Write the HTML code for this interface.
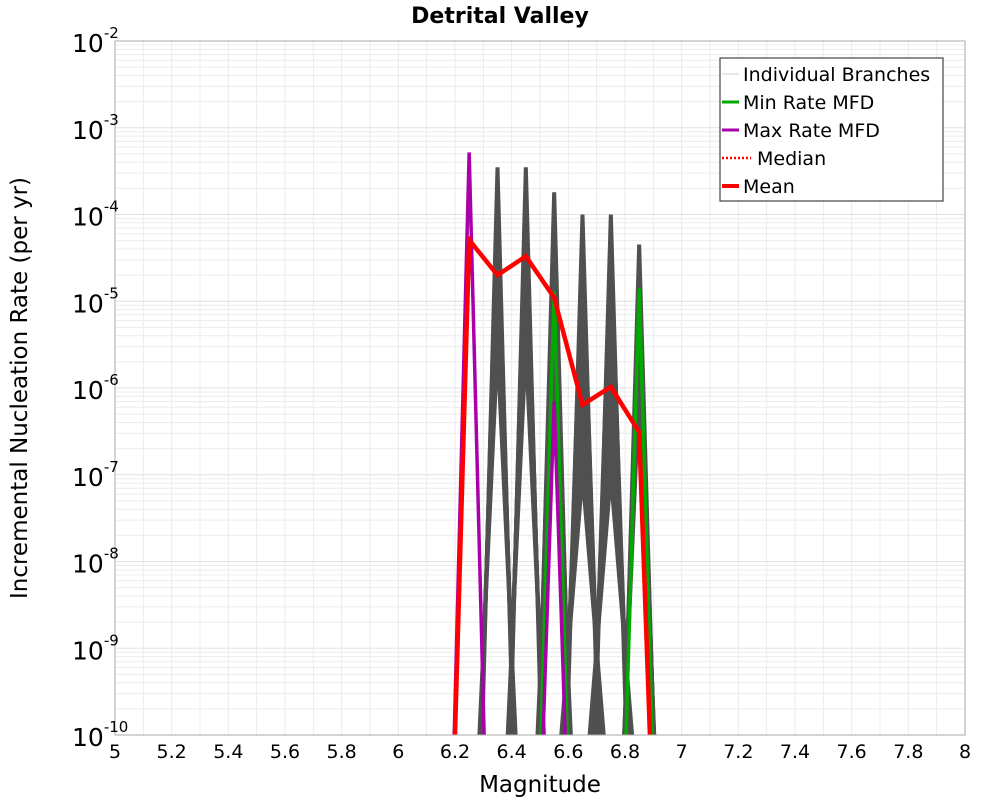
<!DOCTYPE html>
<html><head><meta charset="utf-8"><style>
html,body{margin:0;padding:0;background:#fff;overflow:hidden;}
svg{display:block;}
svg text{font-family:"DejaVu Sans","Liberation Sans",sans-serif;}
</style></head><body>
<svg id="chart" width="1000" height="800" xmlns="http://www.w3.org/2000/svg">
<rect x="0" y="0" width="1000" height="800" fill="#fff"/>
<text x="500" y="23" text-anchor="middle" font-size="22" font-weight="bold">Detrital Valley</text>
<g id="grid"></g>
<g id="series" clip-path="url(#clip)"></g>
<defs><clipPath id="clip"><rect x="115" y="41" width="850" height="694"/></clipPath></defs>
<rect x="115" y="41" width="850" height="694" fill="none" stroke="#aaa" stroke-width="1"/>
<g id="axes"></g>
<text x="540" y="792" text-anchor="middle" font-size="23">Magnitude</text>
<text transform="translate(27,388) rotate(-90)" text-anchor="middle" font-size="23">Incremental Nucleation Rate (per yr)</text>
<g>
<rect x="720" y="58" width="223" height="143" fill="#fff" stroke="#444" stroke-width="1.2"/>
<line x1="722" y1="74" x2="739" y2="74" stroke="#ddd" stroke-width="1.5"/>
<text x="743" y="81" font-size="19">Individual Branches</text>
<line x1="722" y1="102" x2="739" y2="102" stroke="#00aa00" stroke-width="3"/>
<text x="743" y="109" font-size="19">Min Rate MFD</text>
<line x1="722" y1="130" x2="739" y2="130" stroke="#aa00aa" stroke-width="3"/>
<text x="743" y="137" font-size="19">Max Rate MFD</text>
<line x1="722" y1="158" x2="751" y2="158" stroke="#f00" stroke-width="2.5" stroke-dasharray="2,2"/>
<text x="757" y="165" font-size="19">Median</text>
<line x1="722" y1="186" x2="739" y2="186" stroke="#f00" stroke-width="4"/>
<text x="743" y="193" font-size="19">Mean</text>
</g>
</svg>
<script>
const magnitudes=[6.15,6.25,6.35,6.45,6.55,6.65,6.75,6.85,6.95];
const meanValues=[2e-16,5.1e-5,2e-5,3.3e-5,1.1e-5,6.4e-7,1.03e-6,3.1e-7,2e-16];
const minRateValues=[1e-16,1e-16,1e-16,1e-16,1.3e-5,1e-16,1e-16,1.4e-5,1e-16];
const maxRateValues=[1e-16,5.2e-4,1e-16,1e-16,7e-7,1e-16,1e-16,1e-16,1e-16];
// individual branch spikes: center magnitude, peak rate, floor rate
const branchMags=[6.35,6.35,6.35,6.35,6.35,6.35,6.35,6.45,6.45,6.45,6.45,6.45,6.45,6.45,6.55,6.55,6.55,6.55,6.55,6.55,6.65,6.65,6.65,6.65,6.65,6.65,6.65,6.65,6.75,6.75,6.75,6.75,6.75,6.75,6.75,6.75,6.85,6.85,6.85,6.85,6.85];
const branchPeaks=[3.5e-4,2e-4,1e-4,5e-5,2e-5,8e-6,3e-6,3.5e-4,2e-4,1e-4,5e-5,2e-5,8e-6,3e-6,1.8e-4,8e-5,3e-5,1e-5,4e-6,2e-6,1e-4,5e-5,2e-5,8e-6,3e-6,1e-6,3e-7,1e-7,1e-4,5e-5,2e-5,8e-6,3e-6,1e-6,3e-7,1e-7,4.5e-5,2e-5,8e-6,3e-6,1e-6];
const branchFloors=[3e-16,1e-15,3e-15,1e-14,3e-14,1e-13,3e-13,3e-16,1e-15,3e-15,1e-14,3e-14,1e-13,3e-13,3e-16,1e-15,3e-15,1e-14,3e-14,1e-13,1e-15,1e-14,3e-14,1e-13,3e-13,1e-12,3e-12,1e-11,1e-15,1e-14,3e-14,1e-13,3e-13,1e-12,3e-12,1e-11,3e-16,1e-15,3e-15,1e-14,3e-14];
const xTicks=[5,5.2,5.4,5.6,5.8,6,6.2,6.4,6.6,6.8,7,7.2,7.4,7.6,7.8,8];
const xTickLabels=["5","5.2","5.4","5.6","5.8","6","6.2","6.4","6.6","6.8","7","7.2","7.4","7.6","7.8","8"];
const yExponents=[-2,-3,-4,-5,-6,-7,-8,-9,-10];

const X0=115,X1=965,Y0=41,Y1=735;
function xs(m){return X0+(m-5)/3*(X1-X0);}
function ys(v){return Y0+(-2-Math.log10(v))/8*(Y1-Y0);}
const NS="http://www.w3.org/2000/svg";
function mk(tag,attrs,parent){const e=document.createElementNS(NS,tag);for(const k in attrs)e.setAttribute(k,attrs[k]);parent.appendChild(e);return e;}
const grid=document.getElementById('grid'),series=document.getElementById('series'),axes=document.getElementById('axes');
for(let i=0;i<=30;i++){const x=xs(5+i*0.1);const l=mk('line',{x1:x,x2:x,y1:Y0,y2:Y1,stroke:'#ebebeb','stroke-width':1},grid);

}
for(let d=-10;d<-2;d++){for(let k=1;k<=9;k++){const y=ys(k*Math.pow(10,d));const l=mk('line',{x1:X0,x2:X1,y1:y,y2:y,stroke:k==1?'#e2e2e2':'#ececec','stroke-width':1},grid);

}}
xTicks.forEach((t,i)=>{const x=xs(t);const tx=mk('text',{x:x,y:758,'text-anchor':'middle','font-size':19},axes);tx.textContent=xTickLabels[i];

});
yExponents.forEach(e=>{const y=ys(Math.pow(10,e));const tx=mk('text',{x:72,y:y+11,'font-size':25},axes);


tx.textContent='10';const s=mk('tspan',{dy:-14,'font-size':15},tx);s.textContent=String(e);});
function poly(xsArr,vals,color,w,name){const pts=xsArr.map((m,i)=>xs(m)+','+ys(vals[i])).join(' ');
const p=mk('polyline',{points:pts,fill:'none',stroke:color,'stroke-width':w,'stroke-linejoin':'miter','stroke-miterlimit':20},series);

}
branchMags.forEach((m,i)=>{poly([m-0.1,m,m+0.1],[branchFloors[i],branchPeaks[i],branchFloors[i]],'#505050',4,'branch-line');});
poly(magnitudes,minRateValues,'#00aa00',3.5,'min-rate-line');
poly(magnitudes,maxRateValues,'#aa00aa',3.5,'max-rate-line');
poly(magnitudes,meanValues,'#ff0000',4.5,'mean-line');
</script>
</body></html>
